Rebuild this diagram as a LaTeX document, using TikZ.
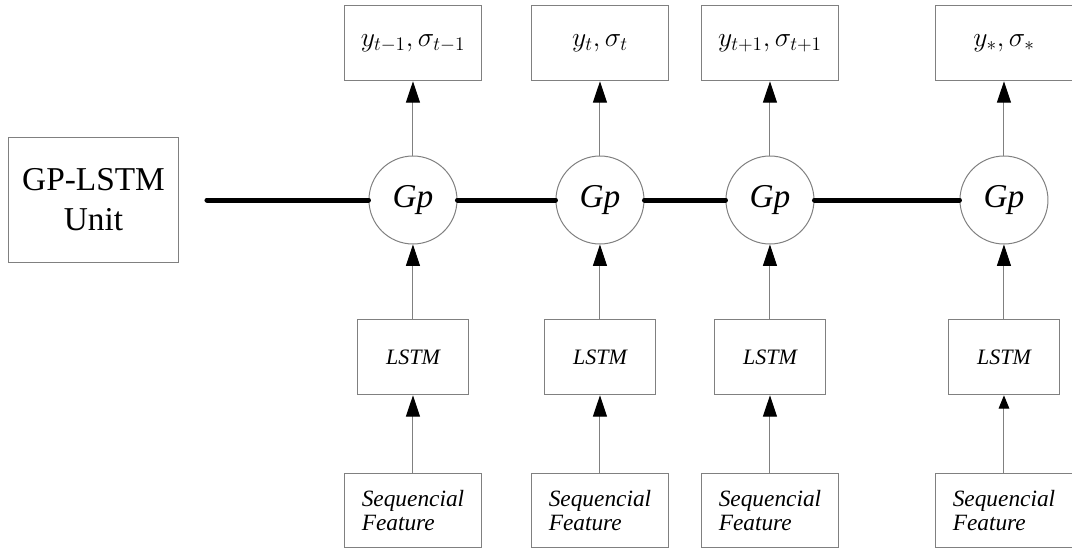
\documentclass[tikz,border=0pt]{standalone}
\usepackage{fontspec}
\setmainfont{Liberation Serif}
\usepackage{tikz}
\usetikzlibrary{shapes.geometric, arrows.meta}
\tikzstyle{block} = [rectangle, minimum width=126.75pt, minimum height=93.75pt, align=center, draw=gray, line width=0.75pt, font=\fontsize{25}{30}\selectfont]
\tikzstyle{gp} = [circle, minimum size=66pt, inner sep=0pt, draw=gray, line width=0.75pt, font=\fontsize{25}{30}\selectfont\itshape]
\tikzstyle{outbox} = [rectangle, minimum width=102.75pt, minimum height=56.25pt, text centered, draw=gray, line width=0.75pt, font=\fontsize{22}{26}\selectfont]
\tikzstyle{lstm} = [rectangle, minimum width=83.25pt, minimum height=56.25pt, text centered, draw=gray, line width=0.75pt, font=\fontsize{16.5}{18}\selectfont\itshape]
\tikzstyle{feat} = [rectangle, minimum width=102.75pt, minimum height=55.5pt, align=left, draw=gray, line width=0.75pt, font=\fontsize{17.5}{17.5}\selectfont\itshape]
\tikzstyle{arrow} = [gray, line width=0.75pt, -{Triangle[length=16pt, width=10.5pt, color=black]}]
\tikzstyle{thickline} = [line width=3.75pt, line cap=round]

\begin{document}
\begin{tikzpicture}[node distance=140.25pt]
\useasboundingbox (-70.125pt,-263.25pt) rectangle (733.875pt,150pt);
\node (unit) [block] {GP-LSTM\\Unit};
\coordinate [node distance=85.1pt, right of = unit] (start);
\node (gp1) [gp, node distance=239.6pt, right of = unit] {Gp};
\node (gp2) [gp, right of = gp1] {Gp};
\node (gp3) [gp, node distance=127.5pt, right of = gp2] {Gp};
\node (gp4) [gp, node distance=175.5pt, right of = gp3] {Gp};
% outputs
\node (y1) [outbox, node distance=117.5pt, above of = gp1] {$y_{t-1},\sigma_{t-1}$};
\node (y2) [outbox, node distance=117.5pt, above of = gp2] {$y_{t},\sigma_{t}$};
\node (y3) [outbox, node distance=117.5pt, above of = gp3] {$y_{t+1},\sigma_{t+1}$};
\node (y4) [outbox, node distance=117.5pt, above of = gp4] {$y_{*},\sigma_{*}$};
% lstm cells and inputs
\node (l1) [lstm, node distance=118pt, below of = gp1] {LSTM};
\node (l2) [lstm, node distance=118pt, below of = gp2] {LSTM};
\node (l3) [lstm, node distance=118pt, below of = gp3] {LSTM};
\node (l4) [lstm, node distance=118pt, below of = gp4] {LSTM};
\node (f1) [feat, node distance=115pt, below of = l1] {Sequencial\\Feature};
\node (f2) [feat, node distance=115pt, below of = l2] {Sequencial\\Feature};
\node (f3) [feat, node distance=115pt, below of = l3] {Sequencial\\Feature};
\node (f4) [feat, node distance=115pt, below of = l4] {Sequencial\\Feature};
\draw [thickline] (start) -- (gp1);
\draw [thickline] (gp1) -- (gp2);
\draw [thickline] (gp2) -- (gp3);
\draw [thickline] (gp3) -- (gp4);
\draw [arrow] (gp1) -- (y1);
\draw [arrow] (gp2) -- (y2);
\draw [arrow] (gp3) -- (y3);
\draw [arrow] (gp4) -- (y4);
\draw [arrow] (l1) -- (gp1);
\draw [arrow] (l2) -- (gp2);
\draw [arrow] (l3) -- (gp3);
\draw [arrow] (l4) -- (gp4);
\draw [arrow] (f1) -- (l1);
\draw [arrow] (f2) -- (l2);
\draw [arrow] (f3) -- (l3);
\draw [arrow, -{Triangle[length=10pt, width=8pt, color=black]}] (f4) -- (l4);
\end{tikzpicture}
\end{document}
